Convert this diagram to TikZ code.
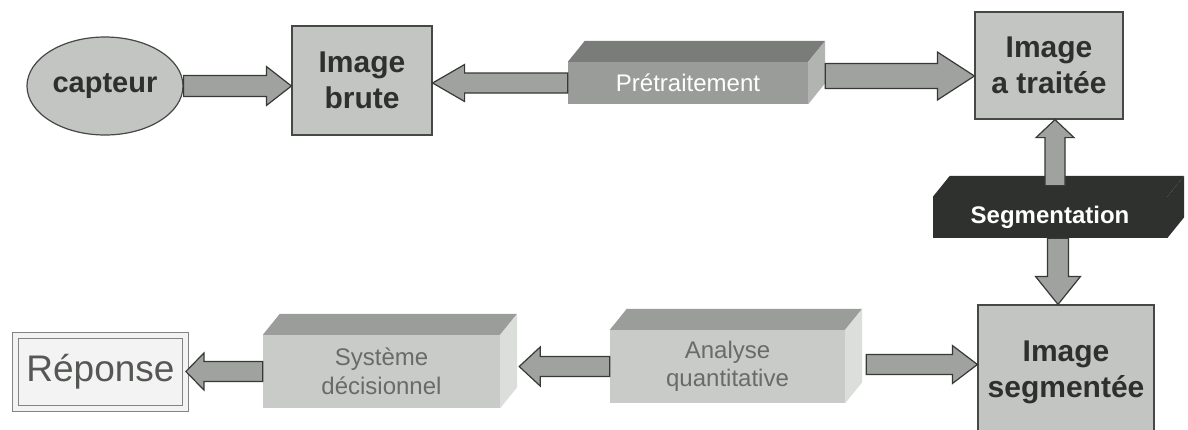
\documentclass[tikz,border=0pt]{standalone}
\usepackage{fontspec}
\setmainfont{Liberation Sans}
\usetikzlibrary{shapes.geometric,calc}

\definecolor{boxfill}{RGB}{194,197,194}
\definecolor{boxline}{RGB}{70,72,70}
\definecolor{txtdark}{RGB}{45,48,45}
\definecolor{arrowfill}{RGB}{160,162,160}
\definecolor{arrowline}{RGB}{55,57,55}
\definecolor{prefront}{RGB}{154,156,154}
\definecolor{pretop}{RGB}{122,124,122}
\definecolor{preside}{RGB}{178,180,178}
\definecolor{slabfront}{RGB}{201,203,201}
\definecolor{slabtop}{RGB}{155,157,155}
\definecolor{slabside}{RGB}{220,222,220}
\definecolor{slabtext}{RGB}{105,107,105}
\definecolor{segdark}{RGB}{47,49,47}
\definecolor{repfill}{RGB}{242,243,242}
\definecolor{repline}{RGB}{130,132,130}
\definecolor{reptext}{RGB}{85,87,85}

\tikzstyle{imgbox} = [rectangle, inner sep=0pt, align=center, style={fill=boxfill, draw=boxline, line width=1.2pt}, text=txtdark, font=\bfseries\fontsize{30}{36}\selectfont]
\tikzstyle{sensor} = [ellipse, inner sep=0pt, style={fill=boxfill, draw=boxline, line width=1.2pt}, text=txtdark, font=\bfseries\fontsize{29}{34}\selectfont]
\tikzstyle{slab} = [rectangle, inner sep=0pt, align=center, font=\fontsize{24}{28.5}\selectfont]
\tikzstyle{answer} = [rectangle, inner sep=0pt, style={fill=repfill, draw=repline, double=repfill, double distance=5pt, line width=1.2pt}, text=reptext, font=\fontsize{37}{42}\selectfont]
\tikzstyle{fatarrow} = [fill=arrowfill, draw=arrowline, line width=1.2pt, line join=miter]

% block arrows: start, target, half shaft, half head, head length
\newcommand{\harrow}[5]{%
  \draw[fatarrow] let \p1=#1, \p2=#2, \n1={sign(\x2-\x1)}, \n2={\x2-\n1*#5} in
    (\x1,{\y1+#3pt}) -- (\n2,{\y1+#3pt}) -- (\n2,{\y1+#4pt}) -- (\x2,\y1)
    -- (\n2,{\y1-#4pt}) -- (\n2,{\y1-#3pt}) -- (\x1,{\y1-#3pt}) -- cycle;}
\newcommand{\varrow}[5]{%
  \draw[fatarrow] let \p1=#1, \p2=#2, \n1={sign(\y2-\y1)}, \n2={\y2-\n1*#5} in
    ({\x1+#3pt},\y1) -- ({\x1+#3pt},\n2) -- ({\x1+#4pt},\n2) -- (\x1,\y2)
    -- ({\x1-#4pt},\n2) -- ({\x1-#3pt},\n2) -- ({\x1-#3pt},\y1) -- cycle;}
% top and side faces of a slab: node, top colour, side colour
\newcommand{\slabfaces}[3]{%
  \fill[#2] (#1.north west) -- ++(17pt,21pt) -- ([shift={(17pt,21pt)}]#1.north east) -- (#1.north east) -- cycle;
  \fill[#3] (#1.north east) -- ++(17pt,21pt) -- ([shift={(17pt,21pt)}]#1.south east) -- (#1.south east) -- cycle;}

\begin{document}
\begin{tikzpicture}[x=1pt, y=-1pt]
	\path[use as bounding box, fill=white] (0,0) rectangle (1188,429);

% Top row
	\node[sensor, minimum width=156pt, minimum height=98pt] at (105,86) (cap) {capteur};
	\node[imgbox, minimum width=140pt, minimum height=109pt] at (362,80.5) (brute) {Image\\brute};
	\node[slab, fill=prefront, text=white, minimum width=240pt, minimum height=42pt] at (688,83) (pre) {Prétraitement};
	\slabfaces{pre}{pretop}{preside}
	\node[imgbox, minimum width=148pt, minimum height=107pt] at (1049,65.5) (trait) {Image\\a traitée};

% Segmentation
	\node[slab, fill=segdark, text=white, font=\bfseries\fontsize{24}{28.5}\selectfont, minimum width=234pt, minimum height=41pt] at (1050,217.5) (seg) {Segmentation};
	\slabfaces{seg}{segdark}{segdark}

% Bottom row
	\node[imgbox, minimum width=176pt, minimum height=135pt] at (1066,372.5) (segm) {Image\\segmentée};
	\node[slab, fill=slabfront, text=slabtext, minimum width=235pt, minimum height=73pt] at (727.5,366.5) (ana) {Analyse\\quantitative};
	\slabfaces{ana}{slabtop}{slabside}
	\node[slab, fill=slabfront, text=slabtext, minimum width=237pt, minimum height=73pt] at (381.5,371.5) (sys) {Système\\décisionnel};
	\slabfaces{sys}{slabtop}{slabside}
	\node[answer, minimum width=169.6pt, minimum height=72.6pt] at (100.5,372) (rep) {Réponse};

% Arrows
	\harrow{(cap.east)}{(brute.west)}{10.5}{19.5}{25}
	\harrow{(pre.west)}{(brute.east)}{10}{18.5}{32}
	\harrow{($(pre.east)+(17pt,7pt)$)}{(trait.west)}{12.5}{24}{37}
	\varrow{($(seg.north)+(5pt,11pt)$)}{(trait.south)}{10}{19}{18}
	\varrow{($(seg.south)+(8pt,0pt)$)}{(segm.north)}{10.5}{22.5}{28}
	\harrow{($(ana.east)+(21pt,2pt)$)}{(segm.west)}{10}{19}{25}
	\harrow{(ana.west)}{($(sys.east)+(19pt,0pt)$)}{10}{19.5}{21}
	\harrow{(sys.west)}{(rep.east)}{10}{18.5}{18}

\end{tikzpicture}
\end{document}
